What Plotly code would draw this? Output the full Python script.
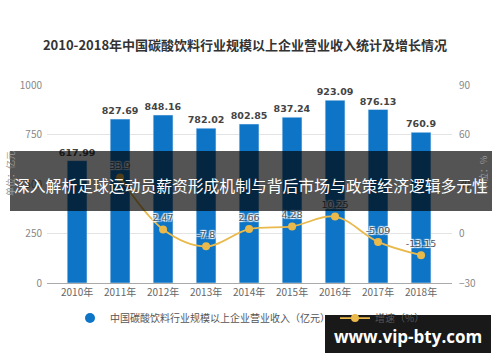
import plotly.graph_objects as go

years = ["2010年", "2011年", "2012年", "2013年", "2014年", "2015年", "2016年", "2017年", "2018年"]
revenue = [617.99, 827.69, 848.16, 782.02, 802.85, 837.24, 923.09, 876.13, 760.9]
growth_years = years[1:]
growth = [33.9, 2.47, -7.8, 2.66, 4.28, 10.25, -5.09, -13.15]
left_ticks = [0, 250, 500, 750, 1000]
right_ticks = [-30, 0, 30, 60, 90]

title = "2010-2018年中国碳酸饮料行业规模以上企业营业收入统计及增长情况"
banner = "深入解析足球运动员薪资形成机制与背后市场与政策经济逻辑多元性"
site = "www.vip-bty.com"

FONT = "Noto Sans CJK SC"
BLUE = "#0d74c6"
GOLD = "#e9b94b"

fig = go.Figure()
fig.add_trace(go.Bar(
    x=years, y=revenue, marker_color=BLUE, width=0.46,
    text=[f"{v:g}" for v in revenue], textposition="outside", cliponaxis=False,
    constraintext="none",
    textfont=dict(family="DejaVu Sans", size=9.5, color="#444", weight="bold"),
    showlegend=False, name="revenue",
))
# legend proxy for bars (circle symbol)
fig.add_trace(go.Scatter(
    x=[None], y=[None], mode="markers",
    marker=dict(symbol="circle", size=10, color=BLUE),
    name="中国碳酸饮料行业规模以上企业营业收入（亿元）",
))
fig.add_trace(go.Scatter(
    x=growth_years, y=growth, yaxis="y2", mode="lines+markers+text",
    line=dict(color=GOLD, width=1.8, shape="spline"),
    marker=dict(color=GOLD, size=8),
    text=[f"{v:g}" for v in growth], textposition="top center",
    textfont=dict(family="DejaVu Sans", size=9.5, color="#555",
                  shadow="1px 1px 1px white, -1px -1px 1px white, 1px -1px 1px white, -1px 1px 1px white"),
    name="增速（%）", cliponaxis=False,
))

fig.update_layout(
    width=500, height=362,
    margin=dict(l=47, r=48, t=85, b=79, autoexpand=False),
    paper_bgcolor="white", plot_bgcolor="white",
    font=dict(family=FONT, color="#666"),
    title=dict(text=title, x=0.49, xanchor="center", y=1 - 45 / 362, yanchor="middle",
               font=dict(family=FONT, size=13, color="#333", weight="bold")),
    xaxis=dict(type="category", range=[-0.7, 8.72], showgrid=False, ticks="",
               tickfont=dict(size=10, color="#666"), showline=True, linecolor="#aaa"),
    yaxis=dict(range=[0, 1000], tickvals=left_ticks, gridcolor="#e3e3e3",
               tickfont=dict(size=10, color="#888"), zeroline=False, ticklabelstandoff=4),
    yaxis2=dict(range=[-30, 90], tickvals=right_ticks, overlaying="y", side="right",
                showgrid=False, zeroline=False, tickfont=dict(size=10, color="#888"),
                ticklabelstandoff=6),
    legend=dict(orientation="h", x=(250 - 47) / 405, xanchor="center", y=-0.177, yanchor="middle",
                font=dict(size=10, color="#555"), itemwidth=30, bgcolor="rgba(0,0,0,0)"),
    bargap=0.5,
)

fig.add_annotation(text="单位：亿元", xref="paper", yref="paper", x=(10 - 47) / 405, y=0.55,
                   xanchor="center", yanchor="middle",
                   textangle=-90, showarrow=False, font=dict(size=9, color="#999"))
fig.add_annotation(text="单位：%", xref="paper", yref="paper", x=(483 - 47) / 405, y=0.55,
                   xanchor="center", yanchor="middle",
                   textangle=-90, showarrow=False, font=dict(size=9, color="#999"))

# banner overlay
fig.add_shape(type="rect", xref="paper", yref="paper",
              x0=(10 - 47) / 405, x1=(492 - 47) / 405,
              y0=(283 - 211) / 198, y1=(283 - 151) / 198,
              fillcolor="rgba(0,0,0,0.67)", line_width=0, layer="above")
fig.add_annotation(text=banner, xref="paper", yref="paper",
                   x=(251 - 47) / 405, y=(283 - 185) / 198, showarrow=False,
                   xanchor="center", yanchor="middle",
                   font=dict(family=FONT, size=15.8, color="white"))
# site box
fig.add_shape(type="rect", xref="paper", yref="paper",
              x0=(325 - 47) / 405, x1=(491 - 47) / 405,
              y0=(283 - 353) / 198, y1=(283 - 315) / 198,
              fillcolor="rgba(0,0,0,0.9)", line_width=0, layer="above")
fig.add_annotation(text=site, xref="paper", yref="paper",
                   x=(408 - 47) / 405, y=(283 - 336) / 198, showarrow=False,
                   xanchor="center", yanchor="middle",
                   font=dict(family="Open Sans", size=17, color="white", weight="bold"))

fig.write_html("out.html", config={"displayModeBar": False},
               post_script="document.body.style.margin='0';")
